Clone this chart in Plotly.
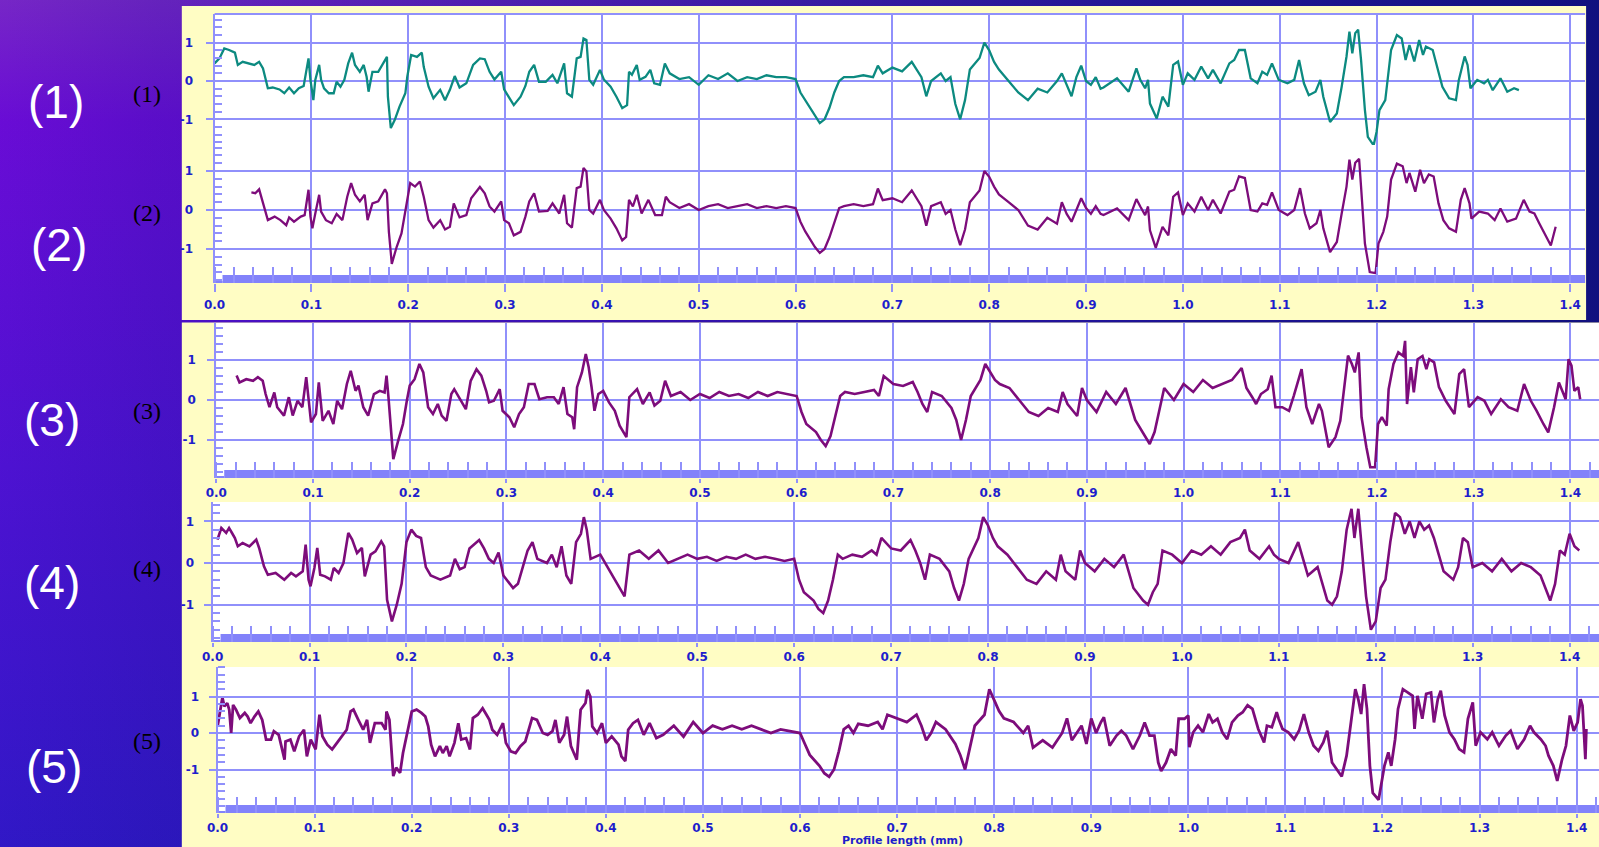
import base64
import plotly.graph_objects as go

W, H = 1599, 847

# ---------------- data (profile height vs. profile length, mm) ----------------
T1A_X = [0.000,0.005,0.010,0.015,0.021,0.024,0.029,0.036,0.041,0.046,
         0.050,0.055,0.060,0.067,0.072,0.077,0.082,0.087,0.092,0.097,
         0.099,0.102,0.104,0.108,0.110,0.113,0.118,0.123,0.126,0.130,
         0.134,0.138,0.142,0.145,0.150,0.154,0.157,0.159,0.163,0.169,
         0.174,0.178,0.179,0.182,0.186,0.191,0.197,0.199,0.203,0.209,
         0.214,0.216,0.221,0.226,0.233,0.238,0.243,0.248,0.253,0.260,
         0.267,0.274,0.279,0.284,0.289,0.296,0.299,0.304,0.309,0.316,
         0.321,0.325,0.330,0.335,0.342,0.349,0.354,0.361,0.364,0.369,
         0.374,0.378,0.381,0.384,0.387,0.391,0.398,0.402,0.409,0.415,
         0.421,0.426,0.428,0.431,0.436,0.439,0.445,0.450,0.454,0.460,
         0.465]
T1A_Y = [0.46,0.59,0.85,0.81,0.74,0.42,0.50,0.46,0.42,0.50,
         0.33,-0.19,-0.17,-0.22,-0.32,-0.17,-0.32,-0.19,-0.13,0.59,
         0.03,-0.50,0.03,0.42,0.03,-0.19,-0.32,-0.32,-0.02,-0.15,
         0.03,0.46,0.74,0.42,0.24,0.42,0.11,-0.28,0.24,0.24,
         0.46,0.63,-0.41,-1.23,-1.02,-0.67,-0.32,0.11,0.68,0.63,
         0.74,0.37,-0.15,-0.45,-0.23,-0.50,-0.23,0.13,-0.17,-0.06,
         0.42,0.59,0.57,0.24,0.04,0.24,-0.22,-0.41,-0.63,-0.41,
         -0.13,0.24,0.42,-0.02,-0.02,0.16,-0.06,0.46,-0.32,-0.41,
         0.59,0.63,1.11,1.07,0.03,-0.10,0.29,0.04,-0.15,-0.41,
         -0.71,-0.63,0.24,0.16,0.42,0.03,0.11,0.29,-0.06,-0.10,
         0.46]
MID_X = [0.47,0.48,0.49,0.50,0.51,0.52,0.53,0.54,0.55,0.56,
         0.57,0.58,0.59,0.60,0.605,0.61,0.615,0.62,0.625,0.63,
         0.635,0.64,0.645,0.65,0.66,0.67,0.68,0.685,0.69,0.70,
         0.71,0.72,0.725,0.73,0.735,0.74,0.75,0.755,0.76,0.765,
         0.77,0.775,0.78,0.79,0.795,0.80,0.805,0.81,0.82,0.83,
         0.84,0.85,0.86,0.87,0.875,0.88,0.885,0.89,0.895,0.90,
         0.905,0.91,0.915]
T1B_Y = [0.2,0.05,0.1,-0.1,0.15,0.05,0.2,0.0,0.1,0.05,
         0.15,0.1,0.1,0.05,-0.3,-0.5,-0.7,-0.9,-1.1,-1.0,
         -0.7,-0.3,0.0,0.1,0.1,0.15,0.1,0.4,0.2,0.35,
         0.25,0.5,0.3,0.1,-0.4,0.0,0.2,0.0,0.1,-0.6,
         -1.0,-0.5,0.3,0.6,1.0,0.8,0.5,0.3,0.0,-0.3,
         -0.5,-0.2,-0.3,0.0,0.2,-0.1,-0.4,0.1,0.4,0.0,
         -0.1,0.1,-0.2]
T1C_X = [0.918,0.932,0.944,0.952,0.956,0.961,0.964,0.966,0.973,0.979,
         0.985,0.990,0.995,1.000,1.005,1.012,1.019,1.026,1.031,1.039,
         1.048,1.053,1.058,1.064,1.070,1.077,1.082,1.087,1.092,1.099,
         1.108,1.115,1.120,1.125,1.130,1.137,1.142,1.145,1.152,1.159,
         1.164,1.169,1.172,1.175,1.178,1.181,1.184,1.188,1.191,1.197,
         1.200,1.203,1.209,1.212,1.215,1.221,1.226,1.230,1.234,1.239,
         1.244,1.248,1.251,1.258,1.263,1.268,1.275,1.282,1.285,1.291,
         1.294,1.297,1.304,1.311,1.315,1.320,1.328,1.335,1.342,1.347]
T1C_Y = [-0.17,0.07,-0.28,0.33,0.03,-0.19,0.03,-0.59,-0.98,-0.41,
         -0.67,0.42,0.51,-0.10,0.20,0.03,0.38,0.07,0.29,-0.06,
         0.46,0.55,0.81,0.81,0.07,-0.06,0.24,0.16,0.46,0.03,
         -0.06,0.03,0.55,-0.06,-0.37,-0.28,0.03,-0.41,-1.07,-0.85,
         -0.15,0.64,1.29,0.72,1.25,1.34,0.55,-0.76,-1.46,-1.68,
         -1.33,-0.76,-0.50,0.11,0.81,1.20,1.11,0.55,0.94,0.51,
         1.07,0.68,0.90,0.81,0.29,-0.15,-0.45,-0.50,0.03,0.64,
         0.42,-0.19,0.03,-0.06,0.03,-0.24,0.07,-0.28,-0.19,-0.24]

T2A_X = [0.038,0.042,0.046,0.051,0.055,0.062,0.068,0.074,0.077,0.082,
         0.089,0.093,0.097,0.099,0.101,0.104,0.108,0.110,0.115,0.121,
         0.126,0.132,0.137,0.141,0.145,0.150,0.155,0.158,0.163,0.169,
         0.176,0.178,0.180,0.183,0.188,0.193,0.197,0.202,0.207,0.212,
         0.216,0.221,0.226,0.233,0.238,0.243,0.247,0.253,0.260,0.265,
         0.274,0.279,0.284,0.289,0.296,0.299,0.304,0.309,0.316,0.321,
         0.325,0.330,0.335,0.344,0.349,0.356,0.361,0.364,0.369,0.374,
         0.378,0.381,0.384,0.387,0.391,0.398,0.402,0.409,0.415,0.421,
         0.425,0.428,0.432,0.436,0.441,0.448,0.455,0.462,0.466]
T2A_Y = [0.45,0.43,0.53,0.09,-0.26,-0.17,-0.26,-0.39,-0.19,-0.30,
         -0.17,-0.13,0.52,-0.17,-0.47,-0.09,0.39,-0.04,-0.26,-0.34,
         -0.10,-0.26,0.34,0.69,0.39,0.22,0.39,-0.26,0.17,0.22,
         0.53,0.43,-0.56,-1.38,-0.95,-0.60,0.00,0.69,0.60,0.73,
         0.34,-0.26,-0.45,-0.26,-0.50,-0.43,0.17,-0.19,-0.13,0.30,
         0.59,0.43,0.09,-0.04,0.22,-0.26,-0.34,-0.65,-0.56,-0.17,
         0.22,0.43,-0.04,-0.02,0.17,-0.09,0.39,-0.34,-0.45,0.56,
         0.60,1.08,0.99,0.00,-0.09,0.26,0.00,-0.22,-0.47,-0.78,
         -0.69,0.26,0.09,0.39,-0.09,0.26,-0.13,-0.13,0.34]
T2B_Y = [0.2,0.05,0.15,0.0,0.1,0.15,0.05,0.1,0.15,0.05,
         0.1,0.05,0.1,0.05,-0.3,-0.55,-0.75,-0.95,-1.1,-1.0,
         -0.7,-0.3,0.05,0.1,0.15,0.1,0.15,0.55,0.25,0.3,
         0.2,0.5,0.3,0.1,-0.4,0.1,0.2,-0.1,0.0,-0.5,
         -0.9,-0.5,0.2,0.5,1.0,0.85,0.6,0.4,0.2,0.0,
         -0.4,-0.5,-0.2,-0.35,0.2,-0.1,-0.3,0.0,0.3,0.05,
         -0.1,0.1,-0.1]
T2C_X = [0.918,0.932,0.944,0.952,0.956,0.961,0.964,0.966,0.972,0.979,
         0.985,0.990,0.995,1.000,1.005,1.012,1.019,1.026,1.031,1.039,
         1.048,1.053,1.058,1.064,1.070,1.077,1.082,1.087,1.092,1.099,
         1.108,1.115,1.121,1.126,1.131,1.138,1.142,1.145,1.152,1.159,
         1.164,1.169,1.172,1.175,1.178,1.182,1.184,1.188,1.193,1.199,
         1.202,1.207,1.211,1.215,1.221,1.227,1.231,1.234,1.240,1.245,
         1.249,1.254,1.259,1.264,1.269,1.275,1.282,1.287,1.291,1.296,
         1.298,1.306,1.315,1.322,1.328,1.335,1.344,1.352,1.358,1.363,
         1.368,1.375,1.380,1.385]
T2C_Y = [-0.13,0.04,-0.26,0.28,0.09,-0.13,0.09,-0.52,-0.97,-0.43,
         -0.65,0.34,0.45,-0.13,0.17,-0.04,0.34,0.00,0.26,-0.09,
         0.47,0.52,0.86,0.82,0.00,-0.04,0.17,0.13,0.45,0.00,
         -0.13,0.00,0.56,-0.09,-0.47,-0.34,0.00,-0.47,-1.08,-0.82,
         -0.09,0.60,1.29,0.78,1.21,1.31,0.60,-0.86,-1.59,-1.62,
         -0.86,-0.56,-0.17,0.78,1.19,1.12,0.69,0.95,0.47,1.03,
         0.69,0.91,0.86,0.17,-0.26,-0.47,-0.56,0.26,0.56,0.17,
         -0.22,-0.04,-0.09,-0.26,0.04,-0.30,-0.22,0.26,-0.04,-0.09,
         -0.34,-0.65,-0.91,-0.43]

T3A_X = [0.021,0.024,0.031,0.038,0.043,0.048,0.051,0.055,0.060,0.063,
         0.070,0.075,0.079,0.084,0.089,0.093,0.098,0.103,0.106,0.110,
         0.116,0.121,0.125,0.130,0.135,0.139,0.144,0.147,0.152,0.157,
         0.163,0.169,0.174,0.176,0.178,0.181,0.183,0.188,0.193,0.197,
         0.200,0.205,0.210,0.214,0.217,0.219,0.224,0.229,0.233,0.238,
         0.243,0.246,0.252,0.258,0.263,0.269,0.274,0.279,0.282,0.287,
         0.293,0.296,0.303,0.308,0.313,0.318,0.323,0.329,0.334,0.342,
         0.349,0.354,0.359,0.363,0.368,0.370,0.373,0.378,0.382,0.385,
         0.388,0.391,0.395,0.400,0.406,0.412,0.417,0.424,0.427,0.435,
         0.441,0.448,0.453,0.459,0.464]
T3A_Y = [0.61,0.44,0.52,0.48,0.57,0.48,0.15,-0.18,0.19,-0.18,
         -0.39,0.07,-0.39,-0.02,-0.18,0.57,-0.56,-0.35,0.44,-0.52,
         -0.27,-0.60,-0.02,-0.23,0.40,0.73,0.23,0.36,-0.18,-0.39,
         0.15,0.23,0.19,0.61,0.07,-0.77,-1.48,-1.02,-0.60,-0.02,
         0.36,0.52,0.90,0.69,0.23,-0.18,-0.35,-0.10,-0.39,-0.52,
         0.15,0.27,0.02,-0.23,0.48,0.77,0.61,0.23,-0.06,-0.02,
         0.27,-0.27,-0.43,-0.68,-0.35,-0.18,0.40,0.40,0.02,0.07,
         0.07,-0.10,0.32,-0.35,-0.43,-0.73,0.32,0.69,1.15,0.82,
         0.32,-0.27,0.15,0.23,-0.06,-0.27,-0.64,-0.93,0.07,0.27,
         -0.10,0.19,-0.14,-0.02,0.48]
T3B_X = [0.47,0.48,0.49,0.50,0.51,0.52,0.53,0.54,0.55,0.56,
         0.57,0.58,0.59,0.60,0.605,0.61,0.62,0.625,0.63,0.635,
         0.64,0.645,0.65,0.66,0.67,0.68,0.685,0.69,0.70,0.71,
         0.72,0.725,0.73,0.735,0.74,0.75,0.76,0.765,0.77,0.775,
         0.78,0.79,0.795,0.80,0.805,0.81,0.82,0.83,0.84,0.85,
         0.86,0.87,0.875,0.88,0.89,0.895,0.90,0.91,0.92,0.93,
         0.94,0.95,0.96,0.965,0.97,0.98,0.99,1.00,1.01,1.02,
         1.03,1.04,1.05,1.06,1.065]
T3B_Y = [0.1,0.2,0.0,0.15,0.05,0.2,0.1,0.15,0.05,0.2,
         0.1,0.2,0.15,0.1,-0.3,-0.6,-0.8,-1.0,-1.15,-0.9,
         -0.4,0.1,0.2,0.15,0.2,0.25,0.1,0.6,0.4,0.35,
         0.45,0.2,-0.1,-0.3,0.2,0.1,-0.2,-0.5,-1.0,-0.5,
         0.1,0.5,0.9,0.7,0.5,0.4,0.3,0.0,-0.3,-0.4,
         -0.2,-0.3,0.2,-0.1,-0.4,0.3,0.0,-0.3,0.2,-0.1,
         0.3,-0.5,-0.9,-1.1,-0.8,0.3,0.0,0.4,0.2,0.5,
         0.3,0.4,0.5,0.8,0.3]
T3C_X = [1.071,1.075,1.080,1.087,1.091,1.095,1.102,1.109,1.114,1.122,
         1.127,1.133,1.140,1.143,1.150,1.157,1.162,1.167,1.170,1.174,
         1.177,1.181,1.184,1.189,1.193,1.198,1.201,1.205,1.210,1.212,
         1.217,1.222,1.227,1.229,1.231,1.235,1.238,1.242,1.247,1.251,
         1.254,1.259,1.264,1.271,1.280,1.285,1.290,1.295,1.304,1.311,
         1.318,1.328,1.336,1.345,1.352,1.359,1.365,1.372,1.377,1.383,
         1.388,1.395,1.398,1.401,1.404,1.408,1.410]
T3C_Y = [0.07,-0.10,0.15,0.27,0.61,-0.18,-0.18,-0.27,0.11,0.77,
         -0.18,-0.60,-0.10,-0.27,-1.18,-0.93,-0.52,0.57,1.11,0.90,
         0.69,1.19,-0.43,-1.18,-1.68,-1.68,-0.60,-0.43,-0.64,0.27,
         0.90,1.19,1.10,1.48,-0.10,0.82,0.19,1.02,1.10,0.77,
         1.02,0.94,0.32,-0.02,-0.35,0.65,0.77,-0.18,0.07,-0.02,
         -0.35,0.02,-0.18,-0.27,0.40,-0.02,-0.27,-0.60,-0.81,-0.18,
         0.44,0.02,1.02,0.86,0.23,0.32,0.02]

T4A_X = [0.005,0.009,0.014,0.017,0.020,0.023,0.026,0.031,0.038,0.045,
         0.048,0.053,0.057,0.065,0.074,0.081,0.086,0.093,0.096,0.099,
         0.101,0.105,0.108,0.111,0.116,0.122,0.125,0.130,0.135,0.140,
         0.144,0.149,0.154,0.157,0.163,0.168,0.174,0.177,0.180]
T4A_Y = [0.56,0.84,0.72,0.84,0.72,0.60,0.40,0.48,0.40,0.56,
         0.36,-0.08,-0.28,-0.24,-0.40,-0.24,-0.32,-0.20,0.44,-0.40,
         -0.56,-0.12,0.36,-0.28,-0.32,-0.40,-0.12,-0.24,0.00,0.72,
         0.56,0.24,0.36,-0.32,0.20,0.28,0.52,0.40,-0.88]
T4B_X = [0.185,0.19,0.195,0.20,0.205,0.21,0.215,0.22,0.225,0.235,
         0.245,0.25,0.255,0.26,0.265,0.275,0.28,0.285,0.29,0.295,
         0.30,0.31,0.315,0.32,0.325,0.33,0.335,0.345,0.35,0.355,
         0.36,0.365,0.37,0.375,0.38,0.383,0.386,0.39,0.40,0.41,
         0.42,0.425,0.43,0.44,0.45]
T4B_Y = [-1.4,-1.0,-0.5,0.5,0.8,0.65,0.6,-0.1,-0.3,-0.4,
         -0.3,0.1,-0.15,-0.1,0.35,0.55,0.35,0.1,0.0,0.25,
         -0.3,-0.6,-0.5,-0.1,0.3,0.5,0.1,0.0,0.2,-0.1,
         0.4,-0.3,-0.5,0.5,0.7,1.1,0.8,0.1,0.2,-0.2,
         -0.6,-0.8,0.2,0.3,0.1]
T4C_X = [0.46,0.47,0.48,0.49,0.50,0.51,0.52,0.53,0.54,0.55,
         0.56,0.57,0.58,0.59,0.60,0.605,0.61,0.62,0.625,0.63,
         0.635,0.64,0.645,0.65,0.66,0.67,0.68,0.685,0.69,0.70,
         0.71,0.72,0.725,0.73,0.735,0.74,0.75,0.76,0.765,0.77,
         0.775,0.78,0.79,0.795,0.80,0.805,0.81,0.82,0.83,0.84,
         0.85,0.86,0.87,0.875,0.88,0.89,0.895,0.90,0.91,0.92,
         0.93,0.94,0.95,0.96,0.965,0.97,0.975,0.98,0.99,1.00,
         1.01,1.02,1.03,1.04,1.05,1.06,1.065,1.07,1.08,1.09,
         1.095,1.10,1.11,1.12,1.125,1.13,1.14,1.145,1.15,1.155,
         1.16,1.165,1.17,1.175,1.178,1.182,1.185,1.19,1.195,1.20,
         1.205,1.21,1.215,1.22,1.225,1.23,1.235,1.24,1.245,1.25,
         1.255,1.26,1.265,1.27,1.28,1.285,1.29,1.295,1.30,1.31,
         1.32,1.33,1.34,1.35,1.36,1.37,1.375,1.38,1.385,1.39,
         1.395,1.40,1.405,1.41]
T4C_Y = [0.3,0.0,0.1,0.2,0.1,0.15,0.05,0.15,0.1,0.2,
         0.1,0.15,0.1,0.05,0.1,-0.4,-0.7,-0.9,-1.1,-1.2,
         -0.9,-0.4,0.2,0.1,0.2,0.15,0.3,0.2,0.6,0.35,
         0.3,0.55,0.3,0.0,-0.4,0.2,0.1,-0.2,-0.6,-0.9,
         -0.5,0.1,0.6,1.1,0.9,0.6,0.4,0.2,-0.1,-0.4,
         -0.5,-0.2,-0.4,0.2,-0.2,-0.4,0.3,0.0,-0.2,0.1,
         -0.1,0.2,-0.6,-0.9,-1.0,-0.7,-0.5,0.3,0.2,0.0,
         0.3,0.2,0.4,0.2,0.5,0.6,0.8,0.3,0.1,0.4,
         0.2,0.1,0.0,0.5,0.1,-0.3,-0.1,-0.5,-0.9,-1.0,
         -0.8,-0.2,0.8,1.3,0.6,1.3,0.5,-0.8,-1.6,-1.4,
         -0.6,-0.4,0.5,1.2,1.1,0.7,1.0,0.6,1.0,0.8,
         0.9,0.6,0.2,-0.2,-0.4,-0.1,0.6,0.5,-0.1,0.0,
         -0.2,0.1,-0.2,0.0,-0.1,-0.3,-0.6,-0.9,-0.5,0.3,
         0.2,0.7,0.4,0.3]

T5A_X = [0.000,0.002,0.005,0.007,0.010,0.012,0.014,0.016,0.019,0.023,
         0.028,0.031,0.034,0.038,0.042,0.046,0.050,0.055,0.058,0.063,
         0.069,0.070,0.075,0.079,0.084,0.089,0.092,0.096,0.101,0.105,
         0.108,0.113,0.118,0.123,0.128,0.133,0.137,0.140,0.145,0.150,
         0.154,0.157,0.162,0.169,0.173,0.174,0.177,0.179,0.181,0.184,
         0.188,0.191,0.196,0.200,0.205,0.210,0.214,0.217,0.220,0.224,
         0.229,0.232,0.236,0.239,0.244,0.248,0.251,0.256,0.260,0.263,
         0.268,0.273,0.277,0.280,0.283,0.288,0.294,0.297,0.302,0.307,
         0.312,0.317,0.324,0.329,0.335,0.340,0.345,0.348,0.352,0.357,
         0.360,0.364,0.367,0.370,0.374,0.379,0.381,0.384,0.386,0.391,
         0.396,0.400,0.406,0.413,0.416,0.420,0.423,0.428,0.433,0.439,
         0.445,0.452,0.459]
T5A_Y = [0.18,0.55,0.97,0.73,0.82,0.64,0.00,0.77,0.64,0.41,
         0.55,0.45,0.27,0.45,0.59,0.36,-0.18,-0.18,0.05,-0.05,
         -0.73,-0.23,-0.18,-0.50,-0.09,0.09,-0.64,-0.18,-0.45,0.50,
         -0.09,-0.32,-0.45,-0.27,-0.09,0.09,0.59,0.64,0.36,0.09,
         0.36,-0.27,0.27,0.27,0.09,0.59,0.36,-0.45,-1.18,-0.95,
         -1.09,-0.55,0.09,0.59,0.64,0.55,0.45,0.18,-0.32,-0.64,
         -0.36,-0.55,-0.36,-0.64,-0.27,0.27,-0.18,-0.14,-0.45,0.41,
         0.50,0.68,0.50,0.36,0.09,-0.05,0.27,-0.27,-0.50,-0.55,
         -0.36,-0.23,0.41,0.36,0.00,-0.05,0.05,0.36,-0.27,-0.05,
         0.45,-0.36,-0.55,-0.73,0.64,0.82,1.18,1.00,0.18,0.00,
         0.27,-0.27,-0.09,-0.32,-0.64,-0.77,0.09,0.27,0.36,-0.05,
         0.27,-0.14,-0.05]
T5B_X = [0.47,0.48,0.49,0.50,0.51,0.52,0.53,0.54,0.55,0.56,
         0.57,0.58,0.59,0.60,0.605,0.61,0.62,0.625,0.63,0.635,
         0.64,0.645,0.65,0.655,0.66,0.67,0.68,0.685,0.69,0.70,
         0.71,0.72,0.725,0.73,0.735,0.74,0.75,0.76,0.765,0.77,
         0.775,0.78,0.79,0.795,0.80,0.805,0.81,0.82,0.83,0.835,
         0.84,0.85,0.86,0.87,0.875,0.88,0.89,0.895,0.90,0.905,
         0.91]
T5B_Y = [0.2,-0.1,0.3,0.0,0.2,0.1,0.2,0.1,0.2,0.1,
         0.0,0.1,0.05,0.0,-0.3,-0.6,-0.9,-1.1,-1.2,-1.0,
         -0.5,0.1,0.2,0.0,0.25,0.2,0.3,0.1,0.5,0.4,
         0.3,0.5,0.2,-0.2,0.0,0.3,0.1,-0.3,-0.6,-1.0,
         -0.4,0.2,0.5,1.2,0.9,0.6,0.4,0.3,0.0,0.2,
         -0.4,-0.2,-0.4,0.0,0.4,-0.2,0.2,-0.3,0.4,0.0,
         0.3]
T5C_X = [0.913,0.919,0.926,0.931,0.936,0.943,0.950,0.955,0.960,0.965,
         0.969,0.972,0.977,0.982,0.987,0.990,0.996,1.000,1.001,1.005,
         1.010,1.015,1.021,1.025,1.030,1.035,1.040,1.045,1.051,1.056,
         1.061,1.066,1.069,1.072,1.078,1.081,1.086,1.091,1.093,1.097,
         1.103,1.109,1.114,1.119,1.124,1.129,1.134,1.139,1.143,1.148,
         1.153,1.158,1.163,1.168,1.172,1.175,1.178,1.181,1.184,1.187,
         1.190,1.196,1.199,1.202,1.206,1.209,1.213,1.216,1.221,1.226,
         1.231,1.233,1.236,1.241,1.245,1.250,1.253,1.257,1.260,1.264,
         1.269,1.274,1.279,1.284,1.288,1.293,1.296,1.301,1.308,1.313,
         1.320,1.327,1.332,1.339,1.346,1.352,1.356,1.363,1.368,1.371,
         1.376,1.380,1.385,1.389,1.393,1.397,1.401,1.404,1.406,1.409,
         1.410]
T5C_Y = [0.43,-0.35,-0.07,0.06,-0.07,-0.44,-0.07,0.29,-0.07,-0.07,
         -0.81,-1.04,-0.81,-0.44,-0.62,0.39,0.39,0.48,-0.39,0.02,
         0.20,0.02,0.52,0.29,0.39,0.02,-0.17,0.29,0.48,0.57,
         0.76,0.66,0.39,0.11,-0.26,0.20,0.16,0.57,0.39,0.11,
         0.02,-0.17,0.06,0.52,0.02,-0.35,-0.49,-0.26,0.06,-0.81,
         -1.00,-1.19,-0.62,0.48,1.20,0.93,0.52,1.34,0.66,-0.90,
         -1.64,-1.83,-1.37,-0.90,-0.53,-0.90,-0.17,0.66,1.20,1.11,
         1.02,0.11,1.02,0.39,1.07,1.11,0.29,0.93,1.16,0.48,
         0.02,-0.17,-0.44,-0.53,0.39,0.84,-0.35,0.02,-0.17,0.02,
         -0.35,-0.07,0.06,-0.44,-0.17,0.20,0.02,-0.17,-0.35,-0.62,
         -0.90,-1.31,-0.72,-0.35,0.48,0.06,0.29,0.93,0.75,-0.72,
         0.11]

X_TICKS = [0.0, 0.1, 0.2, 0.3, 0.4, 0.5, 0.6, 0.7, 0.8, 0.9, 1.0, 1.1, 1.2, 1.3, 1.4]
Y_TICKS = [-1, 0, 1]
SIDE_LABELS = ["(1)", "(2)", "(3)", "(4)", "(5)"]
X_TITLE = "Profile length (mm)"

# ---------------- style ----------------
GRID = "#9090fb"
BAR = "#8282fa"
LBL = "#1e1ecc"
TEAL = "#0c8a80"
PURP = "#7d0c7b"
YELLOW = "#fffdc4"
TICKFONT = dict(family="DejaVu Sans", size=12, color=LBL, weight="bold")


def fx(p):
    return p / W


def fy(p):
    return 1 - p / H


# panel geometry in pixels: (x0 px, right px, x px/unit) and tracks (top, bottom, zero, px/unit)
panels = [
    dict(x0=205, xr=1585, xu=975.0, tlen=8, stand=3, ystand=10,
         tracks=[(14, 145, 81, 38.3), (145, 283, 210, 39.0)]),
    dict(x0=206.7, xr=1599, xu=974.0, tlen=4, stand=0, ystand=9, tracks=[(323, 478, 400, 40.0)]),
    dict(x0=203, xr=1599, xu=976.0, tlen=4, stand=0, ystand=7, tracks=[(502, 642, 563, 41.7)]),
    dict(x0=208, xr=1599, xu=977.5, tlen=4, stand=0, ystand=7, tracks=[(667, 813, 733, 36.5)]),
]

series = [
    (T1A_X + MID_X + T1C_X, T1A_Y + T1B_Y + T1C_Y, TEAL, 2.3),
    (T2A_X + MID_X + T2C_X, T2A_Y + T2B_Y + T2C_Y, PURP, 2.3),
    (T3A_X + T3B_X + T3C_X, T3A_Y + T3B_Y + T3C_Y, PURP, 2.6),
    (T4A_X + T4B_X + T4C_X, T4A_Y + T4B_Y + T4C_Y, PURP, 2.6),
    (T5A_X + T5B_X + T5C_X, T5A_Y + T5B_Y + T5C_Y, PURP, 2.8),
]

layout = dict(
    width=W, height=H, margin=dict(l=0, r=0, t=0, b=0),
    paper_bgcolor="#5a10d0", plot_bgcolor="rgba(0,0,0,0)",
    showlegend=False, hovermode=False,
)

# background gradient image
svg = (
    '<svg xmlns="http://www.w3.org/2000/svg" width="1599" height="847" viewBox="0 0 1599 847" '
    'preserveAspectRatio="none"><defs>'
    '<linearGradient id="v" x1="0" y1="0" x2="0" y2="1">'
    '<stop offset="0" stop-color="#7828c6"/><stop offset="0.15" stop-color="#6a0cd6"/>'
    '<stop offset="0.55" stop-color="#4e12d2"/><stop offset="1" stop-color="#3018c6"/></linearGradient>'
    '<linearGradient id="h" x1="0" y1="0" x2="1" y2="0">'
    '<stop offset="0" stop-color="#14148c" stop-opacity="0"/>'
    '<stop offset="0.1" stop-color="#14148c" stop-opacity="0.18"/>'
    '<stop offset="0.7" stop-color="#14148c" stop-opacity="0.85"/>'
    '<stop offset="1" stop-color="#10107e" stop-opacity="1"/></linearGradient></defs>'
    '<rect width="1599" height="847" fill="url(#v)"/>'
    '<rect width="1599" height="847" fill="url(#h)"/></svg>'
)
uri = "data:image/svg+xml;base64," + base64.b64encode(svg.encode()).decode()
layout["images"] = [dict(source=uri, xref="paper", yref="paper", x=-0.01, y=1.01, sizex=1.02, sizey=1.02,
                         sizing="stretch", xanchor="left", yanchor="top", layer="below")]

shapes = []
# yellow panels
for (x0, y0, x1, y1) in [(172, 6, 1586, 320), (172, 322.5, 1599, 502), (172, 502, 1599, 665), (172, 665, 1599, 847)]:
    shapes.append(dict(type="rect", xref="paper", yref="paper", x0=fx(x0), x1=fx(x1), y0=fy(y1), y1=fy(y0),
                       fillcolor=YELLOW, line=dict(width=0), layer="below"))

yidx = 0
track_axes = []
for pi, p in enumerate(panels):
    xname = "xaxis" if pi == 0 else f"xaxis{pi + 1}"
    xid = "x" if pi == 0 else f"x{pi + 1}"
    top = p["tracks"][0][0]
    bottom = p["tracks"][-1][1]
    # white plot area
    shapes.append(dict(type="rect", xref="paper", yref="paper", x0=fx(p["x0"]), x1=fx(p["xr"]),
                       y0=fy(bottom), y1=fy(top), fillcolor="white", line=dict(width=0), layer="below"))
    # bottom bar
    shapes.append(dict(type="rect", xref="paper", yref="paper", x0=fx(p["x0"] + 8), x1=fx(p["xr"]),
                       y0=fy(bottom), y1=fy(bottom - 8), fillcolor=BAR, line=dict(width=0), layer="below"))
    shapes.append(dict(type="rect", xref="paper", yref="paper", x0=fx(p["x0"]), x1=fx(p["x0"] + 8),
                       y0=fy(bottom), y1=fy(bottom - 2), fillcolor=BAR, line=dict(width=0), layer="below"))
    ids = []
    for ti, (t, b, z, u) in enumerate(p["tracks"]):
        yidx += 1
        yname = "yaxis" if yidx == 1 else f"yaxis{yidx}"
        yid = "y" if yidx == 1 else f"y{yidx}"
        layout[yname] = dict(
            domain=[fy(b), fy(t)], range=[-(b - z) / u, (z - t) / u], anchor=xid,
            tickmode="array", tickvals=Y_TICKS, ticktext=[str(v) for v in Y_TICKS],
            showgrid=True, gridcolor=GRID, gridwidth=2, zeroline=False,
            showline=True, linecolor=GRID, linewidth=2,
            ticks="outside", ticklen=7, tickwidth=2, tickcolor=GRID,
            tickfont=TICKFONT, ticklabelstandoff=p["ystand"], fixedrange=True,
            minor=dict(ticks="inside", tickmode="linear", tick0=0, dtick=0.2, ticklen=7,
                       tickwidth=1.5, tickcolor=GRID, showgrid=False),
        )
        ids.append(yid)
        track_axes.append((xid, yid))
    layout[xname] = dict(
        domain=[fx(p["x0"]), fx(p["xr"])], range=[0, (p["xr"] - p["x0"]) / p["xu"]], anchor=ids[-1],
        tickmode="array", tickvals=X_TICKS, ticktext=[f"{v:.1f}" for v in X_TICKS],
        showgrid=True, gridcolor=GRID, gridwidth=2, zeroline=False, showline=False,
        ticks="outside", ticklen=p["tlen"], tickwidth=2, tickcolor=GRID,
        tickfont=TICKFONT, ticklabelstandoff=p["stand"], fixedrange=True,
        minor=dict(ticks="inside", tickmode="linear", tick0=0, dtick=0.02, ticklen=16,
                   tickwidth=1.5, tickcolor=GRID, showgrid=False),
    )

# top border line of the upper panel
shapes.append(dict(type="line", xref="paper", yref="paper", x0=fx(205), x1=fx(1585), y0=fy(14), y1=fy(14),
                   line=dict(color=GRID, width=2), layer="below"))
layout["shapes"] = shapes

annotations = []
big_pos = [(45, 102), (48, 245), (41, 420), (41, 583), (43, 767)]
small_pos = [(137, 94), (137, 213), (137, 411), (137, 569), (137, 741)]
for lab, (bx, by), (sx, sy) in zip(SIDE_LABELS, big_pos, small_pos):
    annotations.append(dict(text=lab, xref="paper", yref="paper", x=fx(bx), y=fy(by), xanchor="center",
                            yanchor="middle", showarrow=False,
                            font=dict(family="Liberation Sans", size=46, color="white")))
    annotations.append(dict(text=lab, xref="paper", yref="paper", x=fx(sx), y=fy(sy), xanchor="center",
                            yanchor="middle", showarrow=False,
                            font=dict(family="Liberation Serif", size=24, color="black")))
annotations.append(dict(text=X_TITLE, xref="paper", yref="paper", x=fx(898), y=fy(840), xanchor="center",
                        yanchor="middle", showarrow=False,
                        font=dict(family="DejaVu Sans", size=11, color=LBL, weight="bold")))
layout["annotations"] = annotations

fig = go.Figure(layout=layout)
for (xs, ys, col, lw), (xid, yid) in zip(series, track_axes):
    fig.add_trace(go.Scatter(x=xs, y=ys, xaxis=xid, yaxis=yid, mode="lines",
                             line=dict(color=col, width=lw), hoverinfo="skip", showlegend=False))

fig.write_html("out.html", config=dict(displayModeBar=False))
